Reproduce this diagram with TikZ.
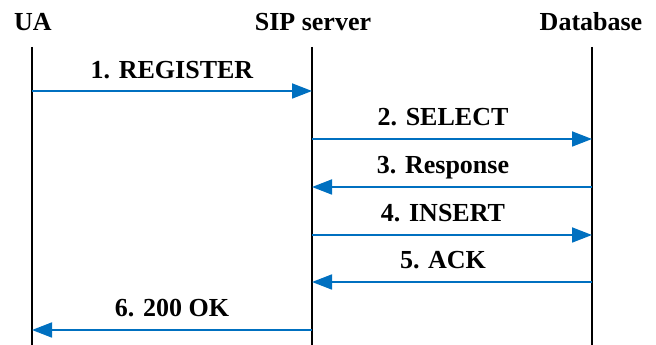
\documentclass[tikz,border=0pt]{standalone}
\usepackage{fontspec}
\setmainfont{Liberation Serif}
\usetikzlibrary{arrows.meta}
\definecolor{msgblue}{RGB}{0,112,192}
\begin{document}
\begin{tikzpicture}[x=1pt,y=1pt,
  hdr/.style={font=\fontsize{26}{30}\selectfont\bfseries, anchor=base, inner sep=0pt},
  lbl/.style={font=\fontsize{26}{30}\selectfont\bfseries, anchor=base, inner sep=0pt},
  life/.style={draw=black, line width=1.4pt},
  msg/.style={draw=msgblue, line width=1.8pt, -{Triangle[length=20pt,width=15pt]}}]
\useasboundingbox (0,0) rectangle (656,345);
% headers
\node[hdr] (ua) at (33,345-31) {UA};
\node[hdr] (sip) at (313,345-31) {SIP server};
\node[hdr] (db) at (591,345-31) {Database};
% lifelines
\coordinate (uaT) at (32,345-47);  \coordinate (uaB) at (32,0);
\coordinate (sipT) at (312,345-47); \coordinate (sipB) at (312,0);
\coordinate (dbT) at (592,345-47); \coordinate (dbB) at (592,0);
\draw[life] (uaT) -- (uaB);
\draw[life] (sipT) -- (sipB);
\draw[life] (dbT) -- (dbB);
% message points
\foreach \i/\y in {1/91,2/139,3/187,4/235,5/282,6/330}{
  \coordinate (ua\i) at (32,345-\y);
  \coordinate (sip\i) at (312,345-\y);
  \coordinate (db\i) at (592,345-\y);
}
\draw[msg] (ua1) -- (sip1) node[lbl, pos=0.5, yshift=12pt] (m1) {1. REGISTER};
\draw[msg] (sip2) -- (db2) node[lbl, pos=0.5, yshift=13pt, xshift=-9pt] (m2) {2. SELECT};
\draw[msg] (db3) -- (sip3) node[lbl, pos=0.5, yshift=13pt, xshift=-9pt] (m3) {3. Response};
\draw[msg] (sip4) -- (db4) node[lbl, pos=0.5, yshift=13pt, xshift=-9pt] (m4) {4. INSERT};
\draw[msg] (db5) -- (sip5) node[lbl, pos=0.5, yshift=13pt, xshift=-9pt] (m5) {5. ACK};
\draw[msg] (sip6) -- (ua6) node[lbl, pos=0.5, yshift=13pt] (m6) {6. 200 OK};
\end{tikzpicture}
\end{document}
